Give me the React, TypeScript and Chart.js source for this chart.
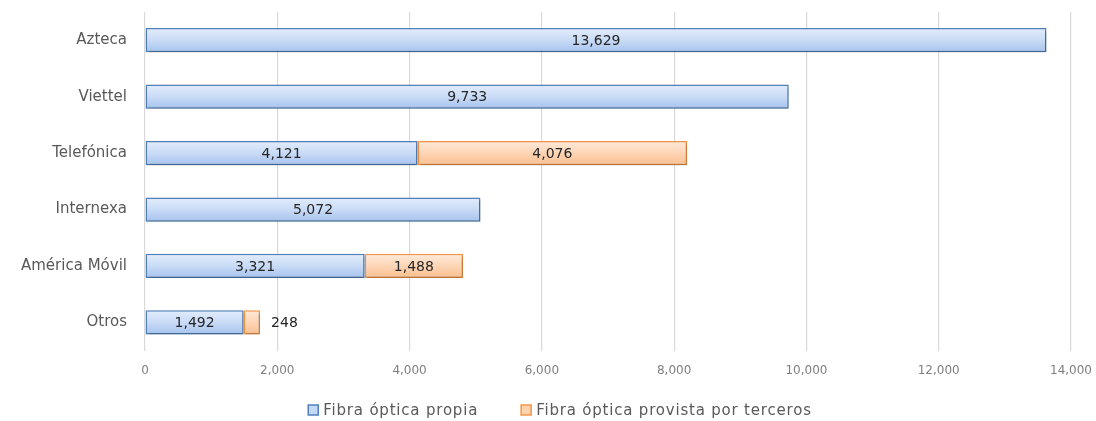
import React, { useEffect, useRef } from "react";
import { Chart, registerables } from "chart.js";

Chart.register(...registerables);

const categories = ["Azteca", "Viettel", "Telefónica", "Internexa", "América Móvil", "Otros"];
const propia = [13629, 9733, 4121, 5072, 3321, 1492];
const terceros = [0, 0, 4076, 0, 1488, 248];
const xTicks = [0, 2000, 4000, 6000, 8000, 10000, 12000, 14000];
const seriesNames = ["Fibra óptica propia", "Fibra óptica provista por terceros"];

const BAR_PCT = 0.43;
const FONT = "'DejaVu Sans', sans-serif";
const LEGEND_COLORS = [
  { fill: "#c5d8f5", stroke: "#4f81bd" },
  { fill: "#fdd3b0", stroke: "#f79646" },
];

function gradientFor(stops: string[], fallback: string) {
  return (ctx: any) => {
    const chart = ctx.chart;
    const y = chart.scales && chart.scales.y;
    if (!y || ctx.dataIndex === undefined) return fallback;
    const center = y.getPixelForValue(ctx.dataIndex);
    const cat = (y.bottom - y.top) / categories.length;
    const h = (cat * BAR_PCT) / 2;
    if (!isFinite(center) || !isFinite(h) || h <= 0) return fallback;
    const g = chart.ctx.createLinearGradient(0, center - h, 0, center + h);
    g.addColorStop(0, stops[0]);
    g.addColorStop(0.5, stops[1]);
    g.addColorStop(1, stops[2]);
    return g;
  };
}

const shadowPlugin = {
  id: "barShadow",
  beforeDatasetsDraw(chart: any) {
    const c = chart.ctx;
    c.save();
    c.shadowColor = "rgba(0,0,0,0.28)";
    c.shadowBlur = 3;
    c.shadowOffsetX = 1;
    c.shadowOffsetY = 2;
  },
  afterDatasetsDraw(chart: any) {
    chart.ctx.restore();
  },
};

const labelPlugin = {
  id: "barLabels",
  afterDatasetsDraw(chart: any) {
    const c = chart.ctx;
    c.save();
    c.font = `14px ${FONT}`;
    c.fillStyle = "#262626";
    c.textBaseline = "middle";
    chart.data.datasets.forEach((ds: any, di: number) => {
      const meta = chart.getDatasetMeta(di);
      meta.data.forEach((el: any, i: number) => {
        const v = ds.data[i];
        if (!v) return;
        const txt = v.toLocaleString("en-US");
        const w = c.measureText(txt).width;
        const left = Math.min(el.x, el.base);
        const right = Math.max(el.x, el.base);
        if (right - left > w + 8) {
          c.textAlign = "center";
          c.fillText(txt, (left + right) / 2, el.y + 1);
        } else {
          c.textAlign = "left";
          c.fillText(txt, right + 11, el.y + 1);
        }
      });
    });
    c.restore();
  },
};

const legendPlugin = {
  id: "customLegend",
  afterDraw(chart: any) {
    const c = chart.ctx;
    c.save();
    c.font = `15px ${FONT}`;
    try { (c as any).letterSpacing = "0.8px"; } catch (e) {}
    c.textBaseline = "middle";
    c.textAlign = "left";
    const box = 10, gapText = 5, gapItem = 43;
    const widths = seriesNames.map((t) => c.measureText(t).width);
    const total = widths.reduce((a, w) => a + box + gapText + w, 0) + gapItem * (seriesNames.length - 1);
    let x = 560 - total / 2;
    const y = 410;
    seriesNames.forEach((t, i) => {
      c.fillStyle = LEGEND_COLORS[i].fill;
      c.strokeStyle = LEGEND_COLORS[i].stroke;
      c.lineWidth = 1.5;
      c.fillRect(x, y - box / 2, box, box);
      c.strokeRect(x, y - box / 2, box, box);
      c.fillStyle = "#595959";
      c.fillText(t, x + box + gapText, y + 1);
      x += box + gapText + widths[i] + gapItem;
    });
    c.restore();
  },
};

export default function App() {
  const ref = useRef<HTMLCanvasElement | null>(null);
  useEffect(() => {
    if (!ref.current) return;
    const chart = new Chart(ref.current, {
      type: "bar",
      data: {
        labels: categories,
        datasets: [
          {
            label: seriesNames[0],
            data: propia,
            backgroundColor: gradientFor(["#e3edfc", "#c9dbf6", "#a6c3ee"], "#c9dbf6") as any,
            borderColor: "#4f81bd",
            borderWidth: 1.5,
            borderSkipped: false,
            barPercentage: BAR_PCT,
            categoryPercentage: 1,
          },
          {
            label: seriesNames[1],
            data: terceros,
            backgroundColor: gradientFor(["#feeadb", "#fdd5b5", "#fbbf8f"], "#fdd5b5") as any,
            borderColor: "#f79646",
            borderWidth: 1.5,
            borderSkipped: false,
            barPercentage: BAR_PCT,
            categoryPercentage: 1,
          },
        ],
      },
      options: {
        indexAxis: "y",
        animation: false,
        responsive: true,
        maintainAspectRatio: false,
        layout: { padding: { top: 12, right: 25, left: 3, bottom: 30 } },
        scales: {
          x: {
            stacked: true,
            min: 0,
            max: 14000,
            afterBuildTicks: (axis: any) => {
              axis.ticks = xTicks.map((v) => ({ value: v }));
            },
            afterFit: (s: any) => {
              s.paddingLeft = 0;
              s.paddingRight = 0;
            },
            ticks: {
              color: "#7f7f7f",
              font: { family: FONT, size: 12 },
              padding: 13,
              maxRotation: 0,
              callback: (v: any) => Number(v).toLocaleString("en-US"),
            },
            grid: { color: "#d9d9d9", lineWidth: 1.2, drawTicks: false },
            border: { display: false },
          },
          y: {
            stacked: true,
            afterFit: (s: any) => {
              s.paddingTop = 0;
              s.paddingBottom = 0;
            },
            grid: { display: false, drawTicks: false },
            border: { display: false },
            ticks: {
              color: "#595959",
              font: { family: FONT, size: 15 },
              padding: 18,
            },
          },
        },
        plugins: {
          tooltip: { enabled: false },
          legend: { display: false },
        },
      },
      plugins: [shadowPlugin, labelPlugin, legendPlugin],
    });
    return () => chart.destroy();
  }, []);
  return (
    <div style={{ position: "absolute", left: 0, top: 0, width: 1096, height: 421, background: "#fff" }}>
      <canvas ref={ref} />
    </div>
  );
}
